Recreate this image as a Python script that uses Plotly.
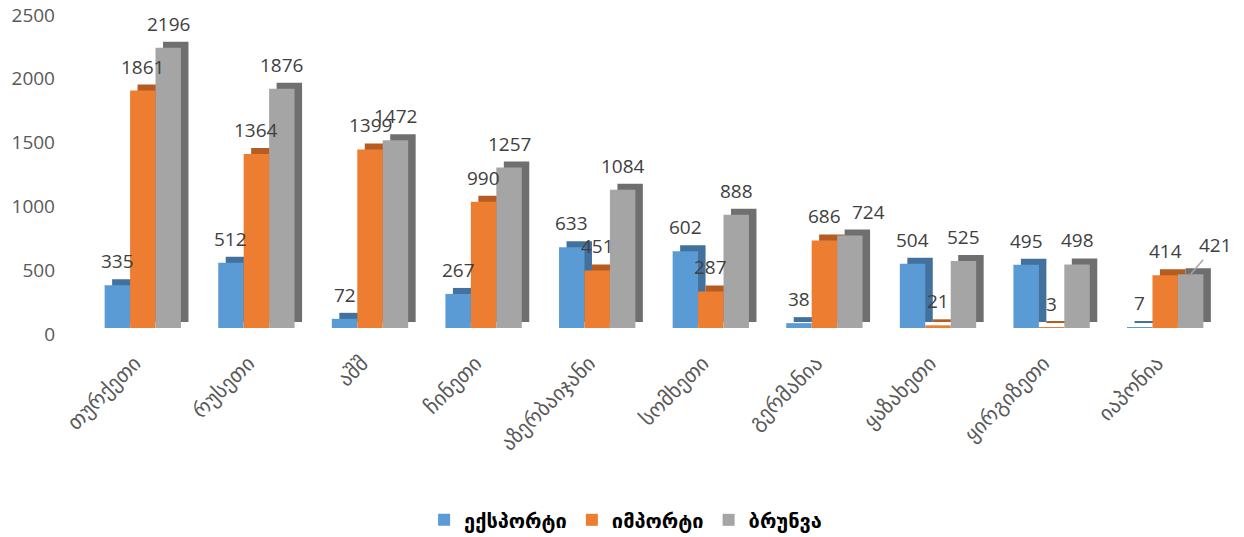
import plotly.graph_objects as go

categories = ["თურქეთი", "რუსეთი", "აშშ", "ჩინეთი", "აზერბაიჯანი",
              "სომხეთი", "გერმანია", "ყაზახეთი", "ყირგიზეთი", "იაპონია"]
export_vals = [335, 512, 72, 267, 633, 602, 38, 504, 495, 7]
import_vals = [1861, 1364, 1399, 990, 451, 287, 686, 21, 3, 414]
turnover_vals = [2196, 1876, 1472, 1257, 1084, 888, 724, 525, 498, 421]
series_names = ["ექსპორტი", "იმპორტი", "ბრუნვა"]
y_ticks = [0, 500, 1000, 1500, 2000, 2500]

series = [export_vals, import_vals, turnover_vals]
front_colors = ["#5B9BD5", "#ED7D31", "#A5A5A5"]
depth_colors = ["#41719C", "#B45C22", "#6F6F6F"]
offsets = [-0.336, -0.112, 0.112]
bar_w = 0.224
dx = 0.066      # depth in category units
dy = 47         # depth in value units

# label placement tweaks (series index, category index) -> style
label_xshift = {(2, 6): 19}
label_leader = {(2, 9): (25, -29)}

xs = list(range(len(categories)))
fig = go.Figure()

# invisible trace so the tick axis is drawn
fig.add_trace(go.Scatter(x=[0] * len(y_ticks), y=y_ticks, mode="markers",
                         marker=dict(opacity=0), showlegend=False,
                         hoverinfo="skip", yaxis="y"))

# depth (shadow) faces
for vals, col, off in zip(series, depth_colors, offsets):
    fig.add_trace(go.Bar(x=xs, y=vals, base=dy, offset=off + dx, width=bar_w,
                         marker=dict(color=col, line=dict(width=0)),
                         showlegend=False, hoverinfo="skip", yaxis="y2"))
# front faces
for vals, col, off, name in zip(series, front_colors, offsets, series_names):
    fig.add_trace(go.Bar(x=xs, y=vals, offset=off, width=bar_w, name=name,
                         marker=dict(color=col, line=dict(width=0)),
                         yaxis="y2"))

annotations = []
for s, (vals, off) in enumerate(zip(series, offsets)):
    for i, v in enumerate(vals):
        cx = i + off + bar_w / 2
        if (s, i) in label_leader:
            ax, ay = label_leader[(s, i)]
            annotations.append(dict(x=cx, y=v, xref="x", yref="y2", text=str(v),
                                    showarrow=True, arrowhead=0, arrowwidth=1.5,
                                    arrowcolor="#A6A6A6", ax=ax, ay=ay, standoff=0,
                                    font=dict(size=19, color="#404040")))
        else:
            annotations.append(dict(x=cx, y=v, xref="x", yref="y2", text=str(v),
                                    showarrow=False, yshift=24,
                                    xshift=label_xshift.get((s, i), 0),
                                    font=dict(size=19, color="#404040")))

fig.update_layout(
    width=1244, height=537,
    margin=dict(l=86, r=22, t=15, b=203, autoexpand=False),
    paper_bgcolor="white", plot_bgcolor="white",
    barmode="overlay",
    font=dict(family="Open Sans, DejaVu Sans, sans-serif", color="#595959"),
    xaxis=dict(range=[-0.5, len(categories) - 0.5], tickmode="array",
               tickvals=xs, ticktext=categories, tickangle=-45, automargin=False,
               showgrid=False, showline=False, zeroline=False, ticks="",
               ticklabelstandoff=12, ticklabelshift=-8,
               tickfont=dict(family="DejaVu Sans", size=21, color="#595959")),
    yaxis=dict(range=[0, 2500], tickvals=y_ticks, showgrid=False, zeroline=False,
               showline=False, ticks="", ticklabelstandoff=30, automargin=False,
               tickfont=dict(size=19, color="#595959")),
    yaxis2=dict(range=[-dy, 2500 - dy], overlaying="y", visible=False),
    legend=dict(orientation="h", x=0.475, xanchor="center",
                yref="container", y=0.032, yanchor="middle",
                font=dict(family="DejaVu Sans", size=20, color="#000000", weight="bold"),
                itemsizing="constant"),
    annotations=annotations,
    showlegend=True,
)

fig.write_html("out.html", config={"displayModeBar": False},
               post_script="document.body.style.margin='0';")
